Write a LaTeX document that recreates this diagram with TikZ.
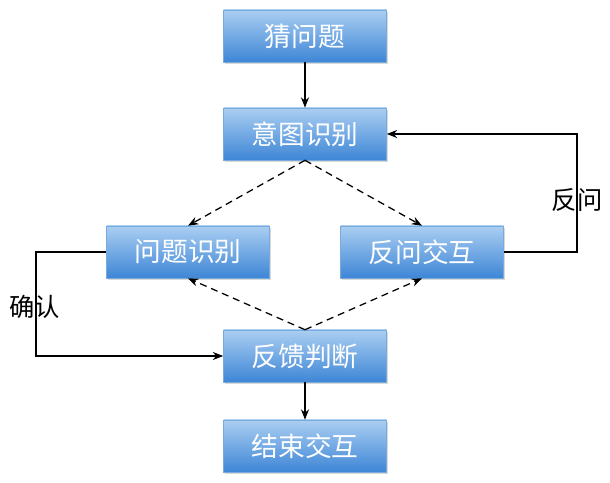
\documentclass[tikz,border=0pt]{standalone}
\usepackage{fontspec}
\setmainfont{Noto Sans CJK SC}
\usepackage{tikz}
\usetikzlibrary{arrows.meta}
\usetikzlibrary{shadows}

\definecolor{boxtop}{RGB}{170,206,242}
\definecolor{boxbot}{RGB}{62,134,214}
\definecolor{boxline}{RGB}{120,170,220}

\tikzset{
  stepbox/.style={draw=boxline, line width=0.4pt, top color=boxtop, bottom color=boxbot,
    minimum width=4.075cm, minimum height=1.3cm, inner sep=0pt, text=white,
    font=\fontsize{19}{22}\selectfont,
    drop shadow={opacity=0.3, shadow xshift=0.4mm, shadow yshift=-0.6mm}},
  flow/.style={line width=0.9pt, -{Stealth[length=2.6mm, width=2mm]}},
  maybe/.style={flow, dash pattern=on 5pt off 3.5pt},
  tag/.style={font=\fontsize{18}{21}\selectfont, text=black}
}

\begin{document}
\begin{tikzpicture}
\useasboundingbox (0,0) rectangle (15.25,12.075);

% boxes
\node[stepbox] (guess) at (7.625,11.175) {猜问题};
\node[stepbox] (intent) at (7.625,8.725) {意图识别};
\node[stepbox] (qid) at (4.7,5.775) {问题识别};
\node[stepbox] (ask) at (10.55,5.775) {反问交互};
\node[stepbox] (judge) at (7.625,3.175) {反馈判断};
\node[stepbox] (finish) at (7.625,0.925) {结束交互};

% main flow
\draw[flow] (guess) -- (intent);
\draw[flow] (judge) -- (finish);

% dashed branches
\draw[maybe] (intent.south) -- (qid.north);
\draw[maybe] (intent.south) -- (ask.north);
\draw[maybe] (judge.north) -- (qid.south);
\draw[maybe] (judge.north) -- (ask.south);

% loops
\coordinate (lcorner) at (0.9,0);
\coordinate (rcorner) at (14.425,0);
\draw[flow] (qid.west) -- (qid.west -| lcorner) -- (judge.west -| lcorner) -- (judge.west);
\draw[flow] (ask.east) -- (ask.east -| rcorner) -- (intent.east -| rcorner) -- (intent.east);

\node[tag] (confirm) at (0.875,4.4) {确认};
\node[tag] (askback) at (14.425,7.075) {反问};

\end{tikzpicture}
\end{document}
